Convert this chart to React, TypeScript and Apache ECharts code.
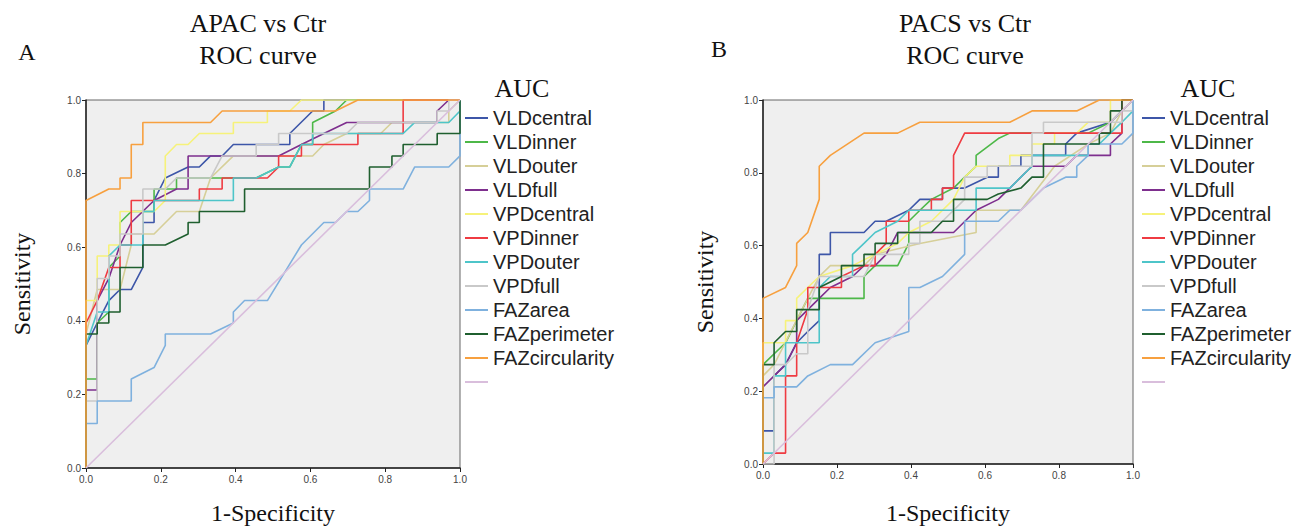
import React, { useEffect, useRef } from "react";
import * as echarts from "echarts";

const seriesNames = [
  "VLDcentral", "VLDinner", "VLDouter", "VLDfull", "VPDcentral", "VPDinner",
  "VPDouter", "VPDfull", "FAZarea", "FAZperimeter", "FAZcircularity", " ",
];
const seriesColors = [
  "#3d56a8", "#4db848", "#d6cf98", "#7e2f8e", "#f6f27a", "#ef3b42",
  "#4ec5c9", "#c9c9c9", "#7fb1de", "#1f5f2f", "#f7a03f", "#d9bedc",
];
const tickValues = [0, 0.2, 0.4, 0.6, 0.8, 1.0];

// ---------- APAC vs Ctr ----------
const apacVLDcentral = [[0,0],[0,0.333],[0.03,0.394],[0.061,0.455],[0.091,0.485],[0.121,0.485],[0.152,0.545],[0.152,0.667],[0.182,0.667],[0.182,0.727],[0.212,0.788],[0.273,0.818],[0.303,0.818],[0.333,0.848],[0.364,0.848],[0.394,0.879],[0.515,0.879],[0.545,0.879],[0.545,0.909],[0.606,0.97],[0.636,0.97],[0.636,1],[1,1]];
const apacVLDinner = [[0,0],[0,0.242],[0.03,0.242],[0.03,0.394],[0.061,0.424],[0.061,0.545],[0.091,0.576],[0.091,0.667],[0.121,0.697],[0.182,0.697],[0.182,0.758],[0.242,0.758],[0.242,0.788],[0.455,0.788],[0.515,0.818],[0.545,0.818],[0.576,0.879],[0.606,0.879],[0.606,0.939],[0.667,0.97],[0.697,1],[1,1]];
const apacVLDouter = [[0,0],[0,0.364],[0.03,0.485],[0.091,0.485],[0.121,0.606],[0.121,0.636],[0.182,0.636],[0.242,0.697],[0.303,0.697],[0.333,0.788],[0.394,0.848],[0.606,0.848],[0.636,0.879],[0.697,0.909],[0.788,0.909],[0.818,0.939],[0.97,0.939],[0.97,0.97],[1,1]];
const apacVLDfull = [[0,0],[0,0.212],[0.03,0.212],[0.03,0.455],[0.061,0.515],[0.091,0.606],[0.121,0.667],[0.182,0.727],[0.242,0.758],[0.273,0.758],[0.273,0.848],[0.515,0.848],[0.576,0.879],[0.636,0.909],[0.697,0.939],[0.939,0.939],[0.939,0.97],[0.97,1],[1,1]];
const apacVPDcentral = [[0,0],[0,0.455],[0.03,0.455],[0.03,0.576],[0.061,0.576],[0.061,0.606],[0.091,0.606],[0.091,0.697],[0.182,0.697],[0.212,0.727],[0.212,0.848],[0.242,0.879],[0.273,0.879],[0.303,0.909],[0.394,0.909],[0.394,0.939],[0.485,0.939],[0.485,0.97],[0.545,0.97],[0.576,1],[1,1]];
const apacVPDinner = [[0,0],[0,0.394],[0.03,0.455],[0.061,0.545],[0.091,0.545],[0.091,0.606],[0.121,0.606],[0.121,0.727],[0.303,0.727],[0.303,0.758],[0.364,0.758],[0.364,0.788],[0.485,0.788],[0.515,0.818],[0.515,0.848],[0.576,0.848],[0.576,0.879],[0.727,0.879],[0.727,0.909],[0.848,0.909],[0.848,1],[1,1]];
const apacVPDouter = [[0,0],[0,0.333],[0.03,0.424],[0.061,0.424],[0.061,0.576],[0.091,0.606],[0.152,0.606],[0.152,0.697],[0.182,0.697],[0.182,0.727],[0.394,0.727],[0.394,0.788],[0.455,0.788],[0.515,0.818],[0.545,0.818],[0.576,0.879],[0.606,0.879],[0.606,0.909],[0.848,0.909],[0.879,0.939],[0.97,0.939],[1,0.97],[1,1]];
const apacVPDfull = [[0,0],[0,0.182],[0.03,0.182],[0.03,0.515],[0.061,0.515],[0.061,0.576],[0.091,0.576],[0.091,0.636],[0.152,0.636],[0.152,0.758],[0.212,0.758],[0.242,0.788],[0.333,0.788],[0.364,0.848],[0.455,0.848],[0.455,0.879],[0.515,0.879],[0.515,0.909],[0.697,0.909],[0.727,0.939],[0.939,0.939],[0.939,0.97],[0.97,0.97],[0.97,1],[1,1]];
const apacFAZarea = [[0,0],[0,0.121],[0.03,0.121],[0.03,0.182],[0.121,0.182],[0.121,0.242],[0.182,0.273],[0.212,0.333],[0.212,0.364],[0.333,0.364],[0.394,0.394],[0.394,0.424],[0.424,0.455],[0.485,0.455],[0.576,0.606],[0.636,0.667],[0.667,0.667],[0.697,0.697],[0.727,0.697],[0.758,0.727],[0.758,0.758],[0.848,0.758],[0.879,0.818],[0.97,0.818],[1,0.848],[1,1]];
const apacFAZperimeter = [[0,0],[0,0.364],[0.03,0.364],[0.03,0.394],[0.061,0.394],[0.061,0.424],[0.091,0.424],[0.091,0.545],[0.152,0.545],[0.152,0.606],[0.212,0.606],[0.273,0.636],[0.273,0.667],[0.303,0.667],[0.303,0.697],[0.424,0.697],[0.424,0.758],[0.758,0.758],[0.758,0.818],[0.818,0.818],[0.818,0.848],[0.848,0.848],[0.848,0.879],[0.939,0.879],[0.939,0.909],[1,0.909],[1,1]];
const apacFAZcircularity = [[0,0],[0,0.727],[0.061,0.758],[0.091,0.758],[0.091,0.788],[0.121,0.788],[0.121,0.879],[0.152,0.879],[0.152,0.939],[0.333,0.939],[0.364,0.97],[0.667,0.97],[0.727,1],[1,1]];
const referenceLine = [[0,0],[1,1]];

// ---------- PACS vs Ctr ----------
const pacsVLDcentral = [[0,0],[0,0.091],[0.03,0.091],[0.03,0.242],[0.061,0.273],[0.091,0.333],[0.121,0.364],[0.152,0.394],[0.152,0.576],[0.182,0.576],[0.182,0.636],[0.273,0.636],[0.303,0.667],[0.333,0.667],[0.394,0.697],[0.424,0.727],[0.485,0.727],[0.485,0.758],[0.545,0.758],[0.606,0.788],[0.636,0.788],[0.636,0.818],[0.697,0.818],[0.697,0.848],[0.818,0.848],[0.818,0.879],[0.848,0.909],[0.939,0.939],[0.97,0.97],[1,1]];
const pacsVLDinner = [[0,0],[0,0.273],[0.061,0.333],[0.091,0.394],[0.121,0.455],[0.273,0.455],[0.273,0.515],[0.303,0.545],[0.364,0.545],[0.394,0.606],[0.394,0.667],[0.424,0.697],[0.455,0.727],[0.515,0.758],[0.545,0.788],[0.576,0.818],[0.576,0.848],[0.636,0.894],[0.667,0.909],[0.879,0.909],[0.939,0.939],[0.97,0.97],[0.97,1],[1,1]];
const pacsVLDouter = [[0,0],[0,0.242],[0.03,0.273],[0.121,0.455],[0.152,0.515],[0.182,0.545],[0.273,0.545],[0.303,0.576],[0.424,0.606],[0.576,0.636],[0.576,0.697],[0.697,0.697],[0.788,0.818],[0.879,0.879],[0.939,0.909],[0.97,0.97],[1,1]];
const pacsVLDfull = [[0,0],[0,0.212],[0.061,0.273],[0.091,0.333],[0.091,0.394],[0.152,0.455],[0.182,0.485],[0.242,0.515],[0.273,0.545],[0.303,0.545],[0.333,0.576],[0.364,0.636],[0.515,0.636],[0.576,0.697],[0.636,0.727],[0.667,0.758],[0.697,0.788],[0.727,0.818],[0.818,0.818],[0.848,0.848],[0.939,0.848],[0.939,0.879],[0.97,0.909],[0.97,1],[1,1]];
const pacsVPDcentral = [[0,0],[0,0.333],[0.061,0.333],[0.061,0.394],[0.091,0.394],[0.091,0.455],[0.121,0.485],[0.152,0.515],[0.242,0.545],[0.303,0.576],[0.364,0.606],[0.394,0.636],[0.455,0.667],[0.515,0.727],[0.545,0.788],[0.576,0.818],[0.667,0.818],[0.667,0.848],[0.727,0.848],[0.727,0.879],[0.788,0.879],[0.788,0.909],[0.848,0.909],[0.879,0.939],[0.939,0.939],[0.939,1],[1,1]];
const pacsVPDinner = [[0,0],[0.03,0.03],[0.061,0.03],[0.061,0.242],[0.091,0.242],[0.091,0.333],[0.121,0.424],[0.121,0.485],[0.212,0.485],[0.212,0.515],[0.273,0.545],[0.303,0.545],[0.303,0.576],[0.333,0.606],[0.333,0.667],[0.394,0.667],[0.394,0.697],[0.455,0.697],[0.455,0.727],[0.485,0.727],[0.485,0.758],[0.515,0.758],[0.515,0.848],[0.545,0.909],[0.97,0.909],[0.97,1],[1,1]];
const pacsVPDouter = [[0,0],[0,0.03],[0.03,0.03],[0.03,0.242],[0.061,0.242],[0.061,0.333],[0.152,0.333],[0.152,0.485],[0.182,0.515],[0.242,0.515],[0.242,0.576],[0.273,0.606],[0.303,0.636],[0.364,0.667],[0.394,0.697],[0.576,0.697],[0.576,0.758],[0.667,0.758],[0.697,0.788],[0.727,0.818],[0.727,0.848],[0.879,0.848],[0.879,0.879],[0.909,0.879],[0.939,0.909],[0.97,0.939],[1,0.97],[1,1]];
const pacsVPDfull = [[0,0],[0.03,0],[0.03,0.273],[0.061,0.273],[0.091,0.303],[0.121,0.303],[0.121,0.424],[0.152,0.515],[0.273,0.515],[0.303,0.576],[0.394,0.576],[0.394,0.606],[0.424,0.606],[0.424,0.667],[0.485,0.667],[0.545,0.727],[0.545,0.788],[0.606,0.788],[0.606,0.818],[0.727,0.818],[0.727,0.909],[0.758,0.909],[0.758,0.939],[0.97,0.939],[0.97,0.97],[1,0.97],[1,1]];
const pacsFAZarea = [[0,0],[0,0.182],[0.03,0.182],[0.03,0.212],[0.091,0.212],[0.121,0.242],[0.182,0.273],[0.242,0.273],[0.303,0.333],[0.394,0.364],[0.394,0.485],[0.424,0.485],[0.485,0.515],[0.545,0.576],[0.545,0.667],[0.636,0.667],[0.667,0.697],[0.697,0.697],[0.758,0.758],[0.818,0.788],[0.848,0.788],[0.848,0.818],[0.879,0.848],[0.879,0.879],[0.97,0.879],[1,0.909],[1,1]];
const pacsFAZperimeter = [[0,0],[0,0.273],[0.03,0.273],[0.03,0.333],[0.061,0.364],[0.091,0.364],[0.091,0.424],[0.152,0.424],[0.152,0.485],[0.212,0.515],[0.212,0.545],[0.273,0.545],[0.273,0.576],[0.303,0.576],[0.303,0.606],[0.364,0.606],[0.364,0.636],[0.455,0.636],[0.485,0.667],[0.515,0.667],[0.515,0.727],[0.606,0.727],[0.636,0.742],[0.697,0.758],[0.727,0.788],[0.758,0.788],[0.758,0.879],[0.909,0.879],[0.909,0.909],[0.939,0.909],[0.939,0.97],[0.97,0.97],[0.97,1],[1,1]];
const pacsFAZcircularity = [[0,0],[0,0.455],[0.061,0.485],[0.091,0.545],[0.091,0.606],[0.121,0.636],[0.152,0.727],[0.152,0.818],[0.182,0.848],[0.273,0.909],[0.364,0.909],[0.424,0.939],[0.667,0.939],[0.727,0.97],[0.848,0.97],[0.909,1],[1,1]];

const apacData = [apacVLDcentral, apacVLDinner, apacVLDouter, apacVLDfull, apacVPDcentral, apacVPDinner, apacVPDouter, apacVPDfull, apacFAZarea, apacFAZperimeter, apacFAZcircularity, referenceLine];
const pacsData = [pacsVLDcentral, pacsVLDinner, pacsVLDouter, pacsVLDfull, pacsVPDcentral, pacsVPDinner, pacsVPDouter, pacsVPDfull, pacsFAZarea, pacsFAZperimeter, pacsFAZcircularity, referenceLine];

const SERIF = "'Liberation Serif', 'Times New Roman', serif";
const SANS = "'Liberation Sans', Arial, sans-serif";

function makeXAxis(gridIndex: number, nameGap: number) {
  return {
    type: "value", gridIndex, min: 0, max: 1, interval: 0.2,
    name: "1-Specificity", nameLocation: "middle", nameGap,
    nameTextStyle: { fontFamily: SERIF, fontSize: 24, color: "#111" },
    axisLine: { show: true, onZero: false, lineStyle: { color: "#222", width: 1.5 } },
    axisTick: { show: true, length: 4, lineStyle: { color: "#222" } },
    axisLabel: { formatter: (v: number) => v.toFixed(1), fontFamily: SANS, fontSize: 10, color: "#444", margin: 6 },
    splitLine: { show: false },
  };
}
function makeYAxis(gridIndex: number, nameGap: number) {
  return {
    type: "value", gridIndex, min: 0, max: 1, interval: 0.2,
    name: "Sensitivity", nameLocation: "middle", nameGap, nameRotate: 90,
    nameTextStyle: { fontFamily: SERIF, fontSize: 24, color: "#111" },
    axisLine: { show: true, onZero: false, lineStyle: { color: "#222", width: 1.5 } },
    axisTick: { show: true, length: 4, lineStyle: { color: "#222" } },
    axisLabel: { formatter: (v: number) => v.toFixed(1), fontFamily: SANS, fontSize: 10, color: "#444", margin: 5 },
    splitLine: { show: false },
  };
}
function makeLegend(left: number) {
  return {
    orient: "vertical", left, top: 108, padding: 0,
    itemWidth: 23, itemHeight: 2, itemGap: 4, icon: "rect",
    selectedMode: false,
    textStyle: { fontFamily: SANS, fontSize: 20, color: "#222", lineHeight: 20 },
    data: seriesNames,
  };
}
function text(t: string, x: number, y: number, size: number) {
  return {
    type: "text", x, y,
    style: { text: t, font: `${size}px ${SERIF}`, fill: "#111", textAlign: "center", textVerticalAlign: "middle" },
  };
}

export default function App() {
  const ref = useRef<HTMLDivElement>(null);
  useEffect(() => {
    if (!ref.current) return;
    const chart = echarts.init(ref.current, undefined, { renderer: "svg" });
    const series: any[] = [];
    [apacData, pacsData].forEach((set, gi) => {
      set.forEach((d, i) => {
        series.push({
          type: "line", name: seriesNames[i], xAxisIndex: gi, yAxisIndex: gi,
          data: d, symbol: "none", showSymbol: false, color: seriesColors[i],
          lineStyle: { color: seriesColors[i], width: 1.6 },
          emphasis: { disabled: true },
        });
      });
    });
    chart.setOption({
      animation: false,
      grid: [
        { left: 86, top: 100, width: 374, height: 375, show: true, backgroundColor: "#efefef", borderColor: "#666", borderWidth: 1 },
        { left: 763, top: 100, width: 370, height: 371, show: true, backgroundColor: "#efefef", borderColor: "#666", borderWidth: 1 },
      ],
      xAxis: [makeXAxis(0, 33), makeXAxis(1, 37)],
      yAxis: [makeYAxis(0, 52), makeYAxis(1, 46)],
      legend: [makeLegend(465), makeLegend(1142)],
      graphic: [
        text("APAC vs Ctr", 258, 23, 26),
        text("ROC curve", 258, 55, 26),
        text("A", 27, 52, 24),
        text("AUC", 522, 88, 26),
        text("PACS vs Ctr", 965, 23, 26),
        text("ROC curve", 965, 55, 26),
        text("B", 719, 49, 24),
        text("AUC", 1208, 88, 26),
      ],
      series,
    });
    return () => chart.dispose();
  }, []);
  return <div ref={ref} style={{ position: "fixed", left: 0, top: 0, width: 1311, height: 530, background: "#fff" }} />;
}
